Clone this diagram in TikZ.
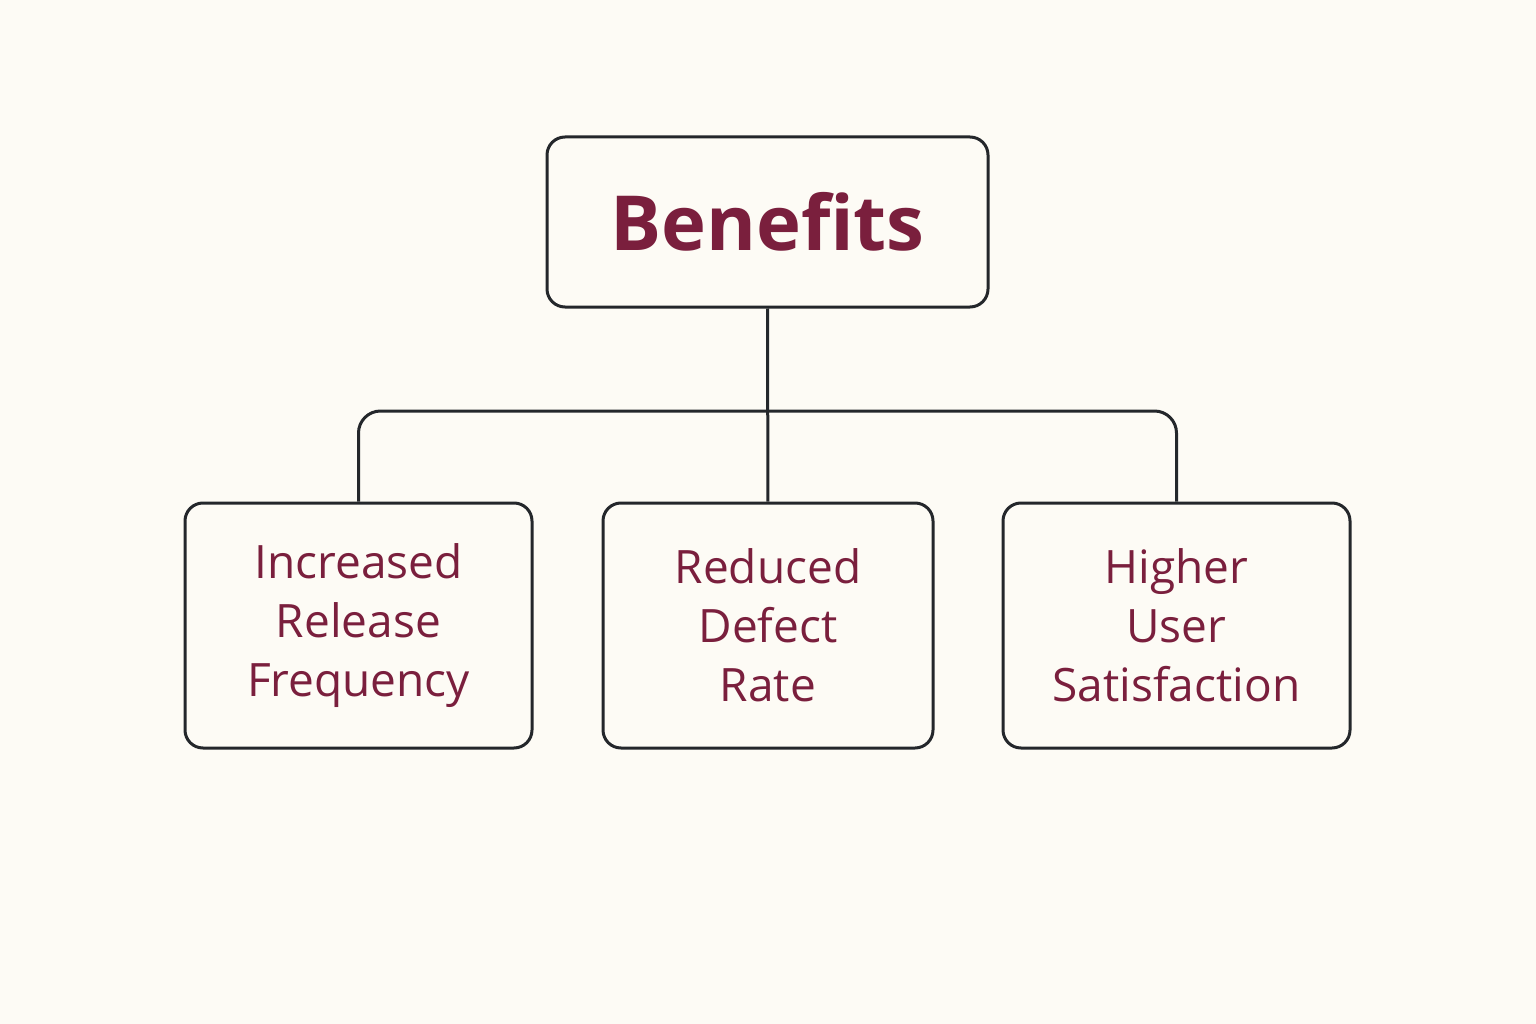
\documentclass[tikz,border=0pt]{standalone}
\usepackage{fontspec}
\setmainfont{Open Sans}
\usetikzlibrary{positioning}
\definecolor{paper}{HTML}{FDFBF5}
\definecolor{wine}{HTML}{7A1F3D}
\definecolor{ink}{HTML}{24272B}

\begin{document}
\begin{tikzpicture}[x=1pt,y=-1pt]
			\tikzstyle{Box}		= [draw=ink, line width=3pt, rounded corners=18pt, fill=paper, text=wine, align=center, inner sep=0pt]
			\tikzstyle{Root}	= [Box, minimum width=441pt, minimum height=170pt, font=\bfseries\fontsize{76}{90}\selectfont]
			\tikzstyle{Leaf}	= [Box, minimum height=245pt, font=\fontsize{46}{59}\selectfont]
			\tikzstyle{Link}	= [draw=ink, line width=3pt]

			\fill[paper] (0,0) rectangle (1536,1024);
			\useasboundingbox (0,0) rectangle (1536,1024);

			\node (benefits) at (767.5, 222) [Root] {Benefits};
			\node (release) at (358.5, 625.5) [Leaf][minimum width=347pt] {Increased\\Release\\Frequency};
			\node (defect) at (768, 625.5) [Leaf][minimum width=330pt] {Reduced\\Defect\\Rate};
			\node (users) at (1176.5, 625.5) [Leaf][minimum width=347pt] {Higher\\User\\Satisfaction};
			\coordinate (bus) at (768, 411);

			\draw [-] (benefits) to (defect) [Link];
			\draw [Link, rounded corners=22pt] (release.north) |- (bus) -| (users.north);
		\end{tikzpicture}
\end{document}
